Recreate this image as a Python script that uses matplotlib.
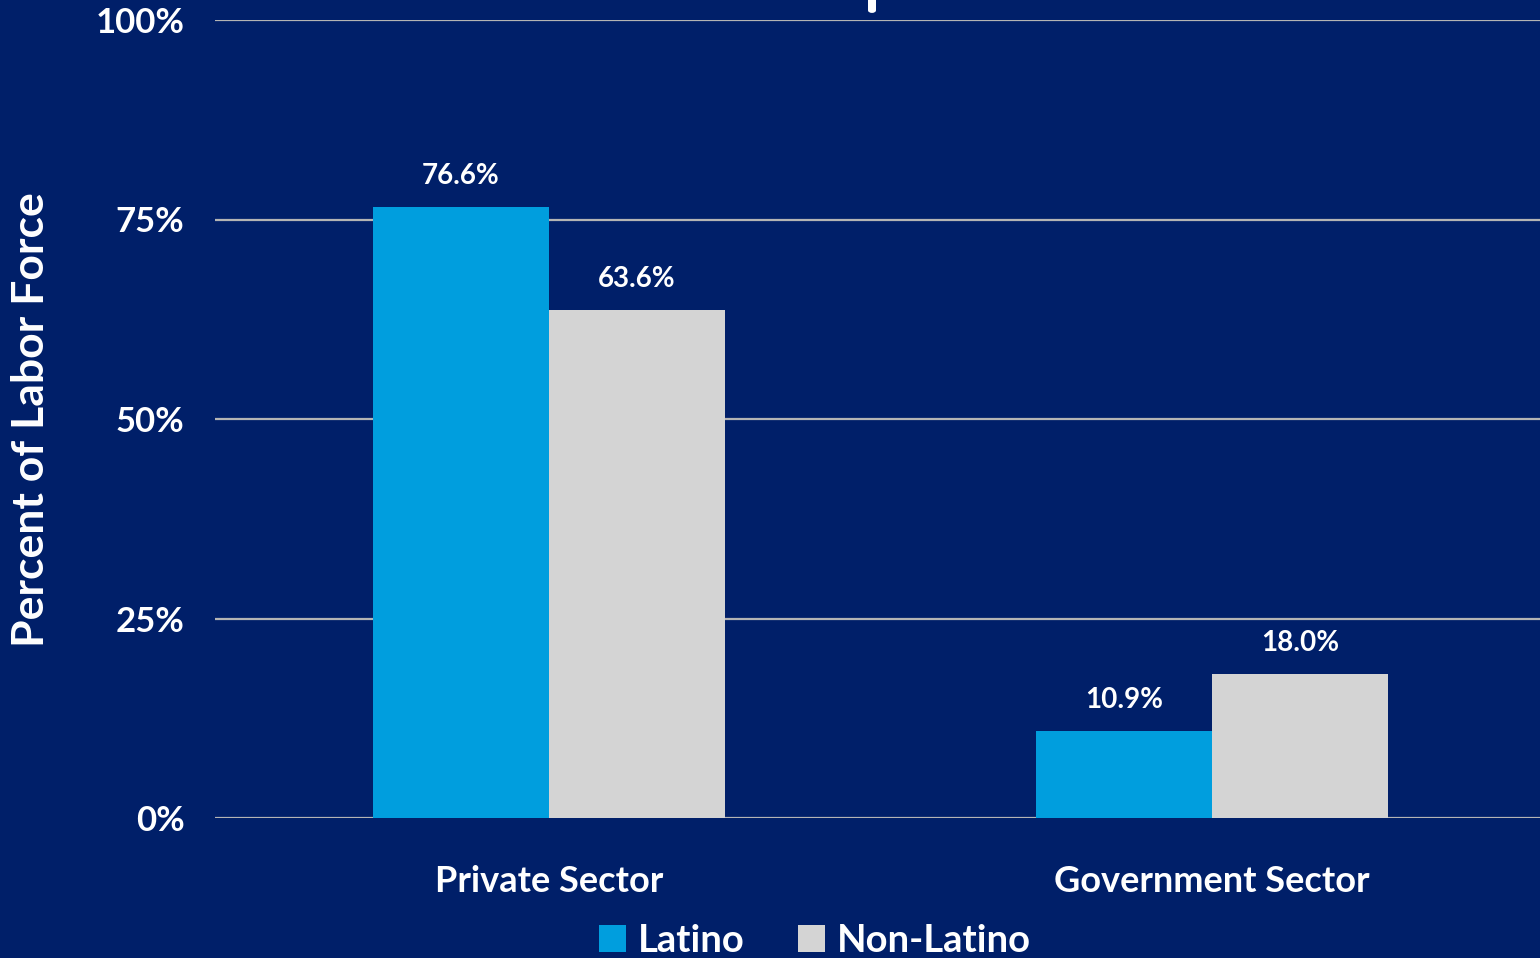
import matplotlib
matplotlib.use("Agg")
import matplotlib.pyplot as plt
import numpy as np
from matplotlib.patches import FancyBboxPatch

categories = ["Private Sector", "Government Sector"]
series_names = ["Latino", "Non-Latino"]
latino = [76.6, 10.9]
non_latino = [63.6, 18.0]
y_ticks = [0, 25, 50, 75, 100]
y_tick_labels = ["0%", "25%", "50%", "75%", "100%"]

BG = "#001F69"
BLUE = "#009EDE"
GRAY = "#D4D4D4"
FONT = ["Lato", "DejaVu Sans"]

plt.rcParams["font.family"] = FONT
plt.rcParams["font.weight"] = "bold"

fig = plt.figure(figsize=(15.4, 9.58), dpi=100, facecolor=BG)
ax = fig.add_axes([215 / 1540, 1 - 818 / 958, 1 - 215 / 1540, (818 - 20) / 958])
ax.set_facecolor(BG)

x = np.arange(len(categories))
w = 0.265
b1 = ax.bar(x - w / 2, latino, width=w, color=BLUE, zorder=3, label=series_names[0])
b2 = ax.bar(x + w / 2, non_latino, width=w, color=GRAY, zorder=3, label=series_names[1])

for bars, vals in ((b1, latino), (b2, non_latino)):
    for rect, v in zip(bars, vals):
        ax.annotate(f"{v:.1f}%", (rect.get_x() + rect.get_width() / 2, v),
                    xytext=(0, 13), textcoords="offset points",
                    ha="center", va="bottom", color="white",
                    fontsize=20, fontweight="bold")

ax.set_xlim(-0.503, 1.494)
ax.set_ylim(0, 100)
ax.set_yticks(y_ticks)
ax.set_yticklabels(y_tick_labels)
ax.set_xticks(x)
ax.set_xticklabels(categories)
ax.tick_params(axis="y", length=0, pad=22, labelsize=25, labelcolor="white")
ax.tick_params(axis="x", length=0, pad=34, labelsize=26, labelcolor="white")
for lab in ax.get_xticklabels() + ax.get_yticklabels():
    lab.set_fontweight("bold")
ax.yaxis.grid(True, color="#B4B4B4", linewidth=1.6, zorder=1)
ax.set_axisbelow(True)
for s in ax.spines.values():
    s.set_visible(False)

fig.text(31 / 1540, 1 - 420 / 958, "Percent of Labor Force", rotation=90,
         ha="center", va="center", color="white", fontsize=32, fontweight="bold")

leg = fig.legend(handles=[b1, b2], labels=series_names, loc="center",
                 bbox_to_anchor=(815 / 1540, 1 - 941 / 958), ncol=2, frameon=False,
                 fontsize=27.5, handlelength=0.7, handleheight=0.7, handletextpad=0.32,
                 columnspacing=1.4, borderaxespad=0, borderpad=0)
for t in leg.get_texts():
    t.set_color("white")
    t.set_fontweight("bold")

fig.patches.append(FancyBboxPatch((868 / 1540, 1 - 13 / 958), 8 / 1540, 20 / 958,
                                  boxstyle="round,pad=0,rounding_size=0.003",
                                  transform=fig.transFigure, facecolor="white",
                                  edgecolor="none"))

fig.savefig("out.png", dpi=100, facecolor=BG)
